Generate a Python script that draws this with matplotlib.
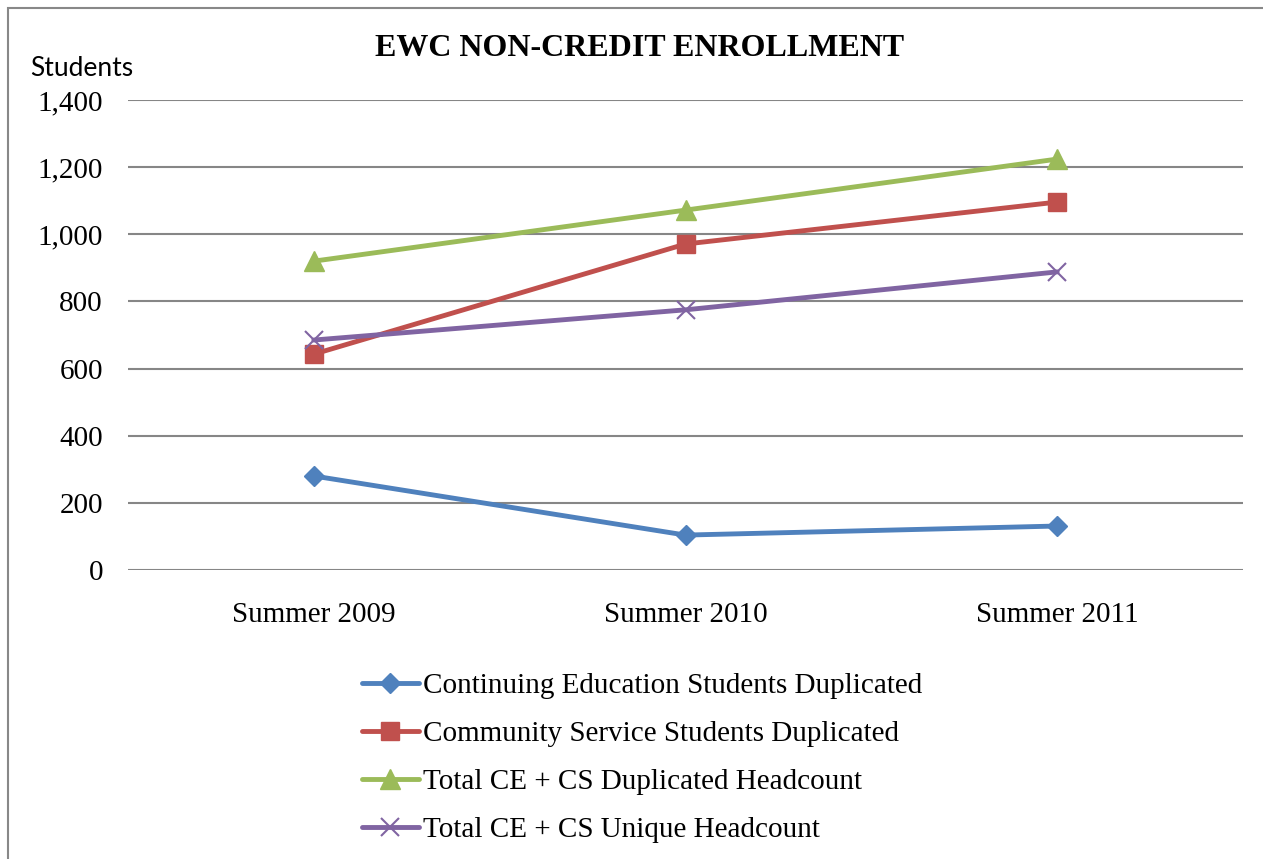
import matplotlib.pyplot as plt
from matplotlib.patches import Rectangle

# data
years = ['Summer 2009', 'Summer 2010', 'Summer 2011']
ce_dup = [280, 104, 131]
cs_dup = [643, 971, 1096]
total_dup = [920, 1072, 1224]
total_unique = [685, 775, 888]
series_names = [
    'Continuing Education Students Duplicated',
    'Community Service Students Duplicated',
    'Total CE + CS Duplicated Headcount',
    'Total CE + CS Unique Headcount',
]
yticks = [0, 200, 400, 600, 800, 1000, 1200, 1400]

W, H = 1263, 859
fig = plt.figure(figsize=(W / 100, H / 100), dpi=100)
serif = 'Liberation Serif'

# outer chart border
fig.patches.append(Rectangle((8 / W, -0.1), 1.2, 1 - 8 / H + 0.1, transform=fig.transFigure,
                             fill=False, edgecolor='#888888', linewidth=1.5))

ax = fig.add_axes([128 / W, 1 - 570 / H, (1243 - 128) / W, (570 - 100) / H])

styles = [
    dict(color='#4F81BD', marker='D', markersize=10),
    dict(color='#C0504D', marker='s', markersize=13),
    dict(color='#9BBB59', marker='^', markersize=14),
    dict(color='#8064A2', marker='x', markersize=13, markeredgewidth=1.5),
]
xs = list(range(len(years)))
for vals, name, st in zip([ce_dup, cs_dup, total_dup, total_unique], series_names, styles):
    ax.plot(xs, vals, linewidth=3.5, label=name, solid_capstyle='round', **st)

ax.set_xlim(-0.5, 2.5)
ax.set_ylim(0, 1400)
ax.set_yticks(yticks)
ax.set_yticklabels([f'{v:,}' for v in yticks], fontfamily=serif, fontsize=21)
ax.set_xticks(xs)
ax.set_xticklabels(years, fontfamily=serif, fontsize=21)
ax.tick_params(length=0)
ax.tick_params(axis='y', pad=18)
ax.tick_params(axis='x', pad=23)
ax.grid(axis='y', color='#868686', linewidth=1.5)
ax.set_axisbelow(True)
for s in ax.spines.values():
    s.set_visible(False)

fig.text(640 / W, 1 - 48 / H, 'EWC NON-CREDIT ENROLLMENT', ha='center', va='center',
         fontfamily=serif, fontweight='bold', fontsize=23)
fig.text(30 / W, 1 - 68 / H, 'Students', ha='left', va='center', fontfamily='Lato', fontsize=19)

leg = fig.legend(loc='upper left', bbox_to_anchor=(350 / W, 1 - 661 / H), frameon=False,
                 prop={'family': serif, 'size': 21}, handlelength=1.95, handletextpad=0.14,
                 labelspacing=0.74, borderaxespad=0)

fig.savefig('out.png', dpi=100)
